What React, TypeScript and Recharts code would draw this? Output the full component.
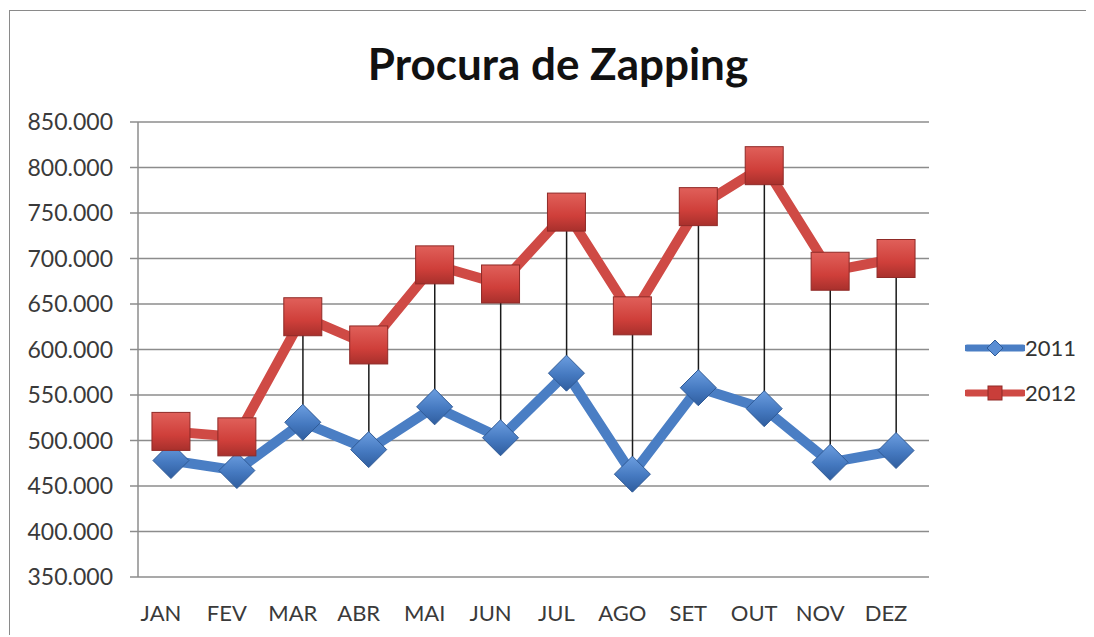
import React from "react";
import {
  ComposedChart,
  Line,
  Bar,
  XAxis,
  YAxis,
  CartesianGrid,
} from "recharts";

const months = ["JAN", "FEV", "MAR", "ABR", "MAI", "JUN", "JUL", "AGO", "SET", "OUT", "NOV", "DEZ"];
const values2011 = [478000, 467000, 520000, 490000, 537000, 503000, 574000, 463000, 558000, 535000, 476000, 489000];
const values2012 = [510000, 504000, 636000, 605000, 693000, 672000, 751000, 637000, 757000, 802000, 686000, 700000];
const yTicks = [350000, 400000, 450000, 500000, 550000, 600000, 650000, 700000, 750000, 800000, 850000];

const data = months.map((m, i) => ({
  month: m,
  y2011: values2011[i],
  y2012: values2012[i],
}));

const FONT = "Lato, 'Open Sans', sans-serif";
const BLUE = "#4a7ec4";
const RED = "#cf4a45";

function fmt(v: number) {
  return `${Math.round(v / 1000)}.000`;
}

function SquareDot(props: any) {
  const { cx, cy, index } = props;
  if (cx == null || cy == null) return null;
  const s = 38;
  const id = `sq-${index}`;
  return (
    <g key={id}>
      <defs>
        <linearGradient id={id} x1="0" y1="0" x2="0" y2="1">
          <stop offset="0%" stopColor="#e0605a" />
          <stop offset="60%" stopColor="#cf3f3a" />
          <stop offset="100%" stopColor="#a8302c" />
        </linearGradient>
      </defs>
      <rect x={cx - s / 2} y={cy - s / 2} width={s} height={s} fill={`url(#${id})`} stroke="#8f2a27" strokeWidth={1} />
    </g>
  );
}

function DiamondDot(props: any) {
  const { cx, cy, index } = props;
  if (cx == null || cy == null) return null;
  const r = 18;
  const id = `dm-${index}`;
  return (
    <g key={id}>
      <defs>
        <linearGradient id={id} x1="0" y1="0" x2="0" y2="1">
          <stop offset="0%" stopColor="#6c9ee0" />
          <stop offset="55%" stopColor="#4579c0" />
          <stop offset="100%" stopColor="#2f5d9e" />
        </linearGradient>
      </defs>
      <polygon
        points={`${cx},${cy - r} ${cx + r},${cy} ${cx},${cy + r} ${cx - r},${cy}`}
        fill={`url(#${id})`}
        stroke="#2f5a96"
        strokeWidth={1}
      />
    </g>
  );
}

// thin black line between the two values of each month
function DropLine(props: any) {
  const { x, y, width, height } = props;
  if (x == null || y == null) return null;
  const cx = x + width / 2;
  const top = Math.min(y, y + height);
  const bottom = Math.max(y, y + height);
  return <line x1={cx} y1={top} x2={cx} y2={bottom} stroke="#1a1a1a" strokeWidth={1.5} />;
}

function LegendBox() {
  const items = [
    { label: "2011", color: BLUE, kind: "diamond" },
    { label: "2012", color: RED, kind: "square" },
  ];
  return (
    <div style={{ position: "absolute", left: 955, top: 314, fontFamily: FONT, fontSize: 22, color: "#333" }}>
      {items.map((it) => (
        <div key={it.label} style={{ display: "flex", alignItems: "center", height: 45 }}>
          <svg width={60} height={20}>
            <line x1={2} y1={10} x2={58} y2={10} stroke={it.color} strokeWidth={7} strokeLinecap="round" />
            {it.kind === "diamond" ? (
              <polygon points="30,2 38,10 30,18 22,10" fill="#5a8ed4" stroke="#2f5a96" strokeWidth={1} />
            ) : (
              <rect x={23} y={3} width={14} height={14} fill="#c93e3a" stroke="#8f2a27" strokeWidth={1} />
            )}
          </svg>
          <span>{it.label}</span>
        </div>
      ))}
    </div>
  );
}

export default function App() {
  return (
    <div
      style={{
        position: "relative",
        marginLeft: 1,
        marginTop: 2,
        width: 1084,
        height: 624,
        borderTop: "1px solid #8a8a8a",
        borderLeft: "1px solid #8a8a8a",
        background: "#fff",
        overflow: "hidden",
      }}
    >
      <div
        style={{
          position: "absolute",
          left: 0,
          width: 1096,
          top: 26,
          textAlign: "center",
          fontFamily: FONT,
          fontWeight: 700,
          fontSize: 44,
          color: "#111",
          lineHeight: "52px",
        }}
      >
        Procura de Zapping
      </div>
      <ComposedChart
        width={1080}
        height={622}
        data={data}
        margin={{ top: 111, right: 161, bottom: 26, left: 48 }}
      >
        <CartesianGrid vertical={false} stroke="#8c8c8c" strokeWidth={1.5} />
        <XAxis
          dataKey="month"
          axisLine={false}
          tickLine={false}
          tickSize={0}
          tickMargin={28}
          height={30}
          interval={0}
          tick={{ fontFamily: FONT, fontSize: 22, fill: "#3a3a3a", dx: -10 }}
        />
        <YAxis
          domain={[350000, 850000]}
          ticks={yTicks}
          tickFormatter={fmt}
          width={80}
          axisLine={{ stroke: "#8c8c8c", strokeWidth: 1.5 }}
          tickLine={{ stroke: "#8c8c8c", strokeWidth: 1.5 }}
          tickSize={8}
          tickMargin={17}
          interval={0}
          tick={{ fontFamily: FONT, fontSize: 23, fill: "#3a3a3a" }}
        />
        <Line
          dataKey="y2011"
          stroke={BLUE}
          strokeWidth={10}
          dot={<DiamondDot />}
          activeDot={false}
          isAnimationActive={false}
        />
        <Line
          dataKey="y2012"
          stroke={RED}
          strokeWidth={10}
          dot={<SquareDot />}
          activeDot={false}
          isAnimationActive={false}
        />
        <Bar
          dataKey={(d: any) => [d.y2011, d.y2012]}
          shape={<DropLine />}
          isAnimationActive={false}
        />
      </ComposedChart>
      <LegendBox />
    </div>
  );
}
